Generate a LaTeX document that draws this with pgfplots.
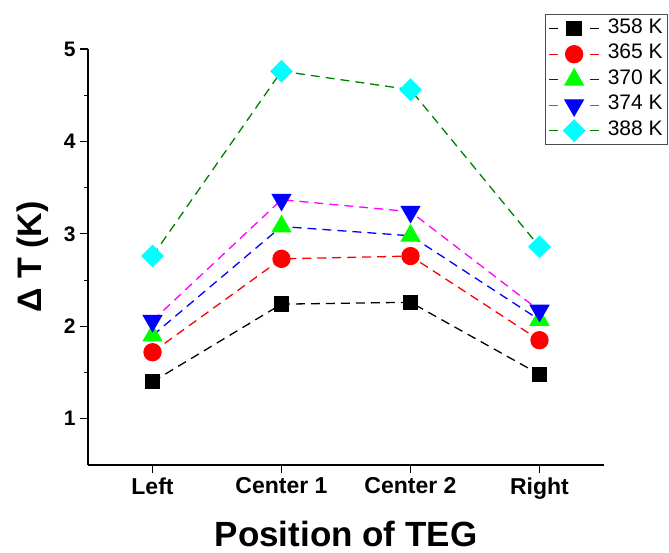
\documentclass[border=0pt]{standalone}
\usepackage{fontspec}
\setmainfont{Liberation Sans}
\usepackage{pgfplots}
\pgfplotsset{compat=1.18}
\definecolor{dgreen}{RGB}{0,128,0}
\definecolor{lgreen}{RGB}{0,255,0}
\definecolor{pcyan}{RGB}{0,255,255}
\definecolor{pmag}{RGB}{255,0,255}
\definecolor{pblue}{RGB}{0,0,255}
\definecolor{pred}{RGB}{255,0,0}
\begin{document}
\begin{tikzpicture}
\begin{axis}[
  at={(88pt,88pt)}, anchor=south west,
  scale only axis, width=516pt, height=416pt,
  xmin=-0.5, xmax=3.5, ymin=0.5, ymax=5,
  axis lines*=left,
  axis line style={line width=1.3pt},
  xtick={0,1,2,3},
  xticklabels={Left,Center 1,Center 2,Right},
  ytick={1,2,3,4,5},
  minor ytick={1.5,2.5,3.5,4.5},
  tick align=outside,
  major tick length=8pt, minor tick length=4pt,
  every tick/.style={line width=1.1pt, black},
  /pgf/number format/assume math mode=true,
  yticklabel style={font=\fontsize{21}{21}\selectfont\bfseries, xshift=-1pt},
  xticklabel style={font=\fontsize{23}{23}\selectfont\bfseries, yshift=-1pt},
  xlabel={Position of TEG},
  ylabel={Δ T (K)},
  xlabel style={font=\fontsize{35}{35}\selectfont\bfseries, at={(axis description cs:0.5,-0.165)}, anchor=center},
  ylabel style={font=\fontsize{34}{34}\selectfont\bfseries, at={(axis description cs:-0.1066,0.5)}, anchor=center},
  clip=false,
  legend cell align=left,
  legend image code/.code={\draw[mark repeat=2,mark phase=2,#1,dash pattern=on 9pt off 32pt] plot coordinates {(0pt,0pt) (25pt,0pt) (50pt,0pt)};},
  legend style={at={(axis description cs:0.8866,1.083)}, anchor=north west,
    draw=black!70, line width=1pt, font=\fontsize{21}{21}\selectfont,
    inner xsep=3pt, inner ysep=1.5pt, row sep=0pt, outer sep=0pt,
    nodes={inner xsep=2pt, inner ysep=3pt, text height=14.5pt, text depth=5pt},
    /tikz/every odd column/.append style={column sep=6pt}},
  every axis plot/.append style={line width=1.3pt, dash pattern=on 9pt off 6pt},
]
\addplot[black, mark=square*, mark size=7pt, mark options={solid, fill=black, draw=black}]
  coordinates {(0,1.40) (1,2.24) (2,2.26) (3,1.48)};
\addlegendentry{358 K}
\addplot[pred, mark=*, mark size=8.5pt, mark options={solid, fill=pred, draw=pred}]
  coordinates {(0,1.72) (1,2.73) (2,2.76) (3,1.85)};
\addlegendentry{365 K}
\addplot[pblue, mark=triangle*, mark size=10.5pt, mark options={solid, fill=lgreen, draw=lgreen}]
  coordinates {(0,1.90) (1,3.08) (2,2.98) (3,2.07)};
\addlegendentry{370 K}
\addplot[pmag, mark=triangle*, mark size=10.5pt, mark options={solid, fill=pblue, draw=pblue, rotate=180}]
  coordinates {(0,2.06) (1,3.37) (2,3.24) (3,2.17)};
\addlegendentry{374 K}
\addplot[dgreen, mark=diamond*, mark size=10.5pt, mark options={solid, fill=pcyan, draw=pcyan, xscale=1.33}]
  coordinates {(0,2.76) (1,4.76) (2,4.56) (3,2.86)};
\addlegendentry{388 K}
\end{axis}
\pgfresetboundingbox
\path (0pt,0pt) rectangle (669pt,553pt);
\end{tikzpicture}
\end{document}
